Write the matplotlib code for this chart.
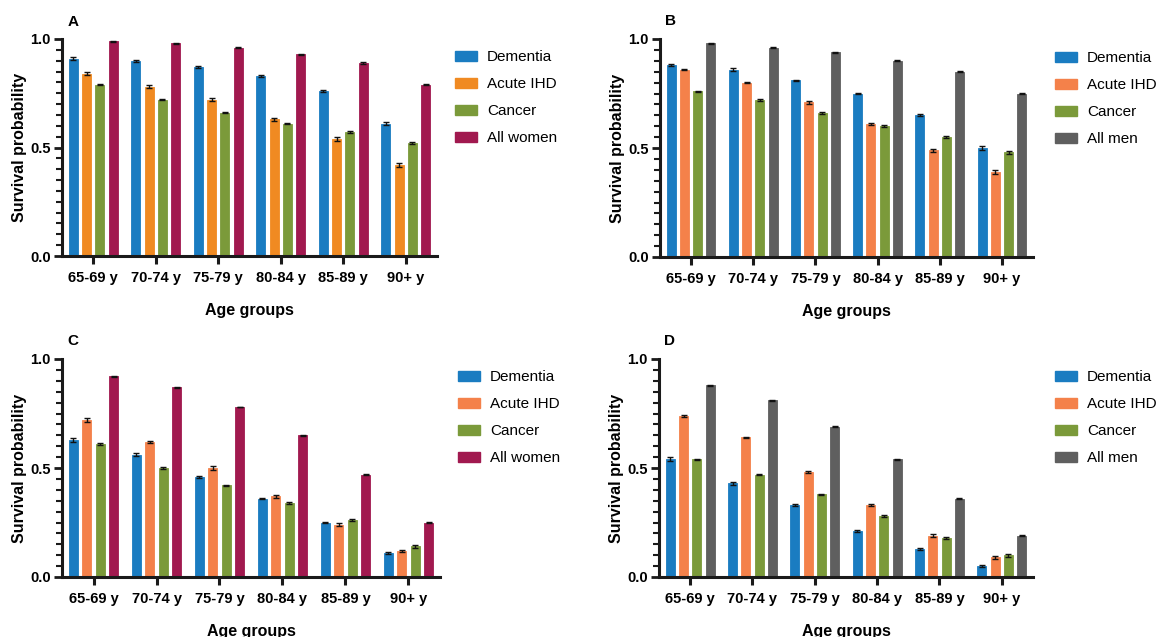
import matplotlib
matplotlib.use("Agg")
import matplotlib.pyplot as plt
import numpy as np
from matplotlib.patches import Patch
from matplotlib.ticker import MultipleLocator

plt.rcParams['font.family'] = ['Liberation Sans', 'DejaVu Sans']

age_groups = ["65-69 y", "70-74 y", "75-79 y", "80-84 y", "85-89 y", "90+ y"]
series_women = ["Dementia", "Acute IHD", "Cancer", "All women"]
series_men = ["Dementia", "Acute IHD", "Cancer", "All men"]

# Panel A (women)
a_dementia = [0.91, 0.90, 0.87, 0.83, 0.76, 0.61]
a_ihd      = [0.84, 0.78, 0.72, 0.63, 0.54, 0.42]
a_cancer   = [0.79, 0.72, 0.66, 0.61, 0.57, 0.52]
a_all      = [0.99, 0.98, 0.96, 0.93, 0.89, 0.79]
a_err_dementia = [0.005, 0.004, 0.005, 0.004, 0.005, 0.006]
a_err_ihd      = [0.006, 0.006, 0.006, 0.007, 0.008, 0.010]
a_err_cancer   = [0.003, 0.003, 0.003, 0.004, 0.005, 0.006]
a_err_all      = [0.002, 0.002, 0.002, 0.002, 0.003, 0.003]

# Panel B (men)
b_dementia = [0.88, 0.86, 0.81, 0.75, 0.65, 0.50]
b_ihd      = [0.86, 0.80, 0.71, 0.61, 0.49, 0.39]
b_cancer   = [0.76, 0.72, 0.66, 0.60, 0.55, 0.48]
b_all      = [0.98, 0.96, 0.94, 0.90, 0.85, 0.75]
b_err_dementia = [0.005, 0.005, 0.004, 0.004, 0.005, 0.007]
b_err_ihd      = [0.003, 0.004, 0.006, 0.005, 0.007, 0.010]
b_err_cancer   = [0.003, 0.003, 0.003, 0.004, 0.005, 0.008]
b_err_all      = [0.002, 0.002, 0.002, 0.002, 0.003, 0.003]

# Panel C (women)
c_dementia = [0.63, 0.56, 0.46, 0.36, 0.25, 0.11]
c_ihd      = [0.72, 0.62, 0.50, 0.37, 0.24, 0.12]
c_cancer   = [0.61, 0.50, 0.42, 0.34, 0.26, 0.14]
c_all      = [0.92, 0.87, 0.78, 0.65, 0.47, 0.25]
c_err_dementia = [0.009, 0.007, 0.005, 0.004, 0.004, 0.004]
c_err_ihd      = [0.008, 0.006, 0.007, 0.006, 0.006, 0.006]
c_err_cancer   = [0.004, 0.003, 0.004, 0.004, 0.005, 0.005]
c_err_all      = [0.002, 0.002, 0.002, 0.002, 0.003, 0.003]

# Panel D (men)
d_dementia = [0.54, 0.43, 0.33, 0.21, 0.13, 0.05]
d_ihd      = [0.74, 0.64, 0.48, 0.33, 0.19, 0.09]
d_cancer   = [0.54, 0.47, 0.38, 0.28, 0.18, 0.10]
d_all      = [0.88, 0.81, 0.69, 0.54, 0.36, 0.19]
d_err_dementia = [0.009, 0.008, 0.006, 0.004, 0.004, 0.004]
d_err_ihd      = [0.004, 0.004, 0.005, 0.006, 0.006, 0.008]
d_err_cancer   = [0.003, 0.003, 0.003, 0.004, 0.004, 0.006]
d_err_all      = [0.002, 0.002, 0.002, 0.002, 0.003, 0.003]

BLUE = "#1a7cc1"
ORANGE_A = "#f08a22"
ORANGE = "#f4814a"
GREEN = "#7b9a3a"
MAROON = "#a1194f"
GRAY = "#5f5f5f"

panels = [
    dict(letter="A", vals=[a_dementia, a_ihd, a_cancer, a_all],
         errs=[a_err_dementia, a_err_ihd, a_err_cancer, a_err_all],
         colors=[BLUE, ORANGE_A, GREEN, MAROON], labels=series_women,
         rect=[62/1165, 1-256/637, 375/1165, 217/637],
         leg=(452/1165, 1-47/637)),
    dict(letter="B", vals=[b_dementia, b_ihd, b_cancer, b_all],
         errs=[b_err_dementia, b_err_ihd, b_err_cancer, b_err_all],
         colors=[BLUE, ORANGE, GREEN, GRAY], labels=series_men,
         rect=[660/1165, 1-257/637, 373/1165, 218/637],
         leg=(1052/1165, 1-48/637)),
    dict(letter="C", vals=[c_dementia, c_ihd, c_cancer, c_all],
         errs=[c_err_dementia, c_err_ihd, c_err_cancer, c_err_all],
         colors=[BLUE, ORANGE, GREEN, MAROON], labels=series_women,
         rect=[62/1165, 1-577/637, 378/1165, 218/637],
         leg=(455/1165, 1-367/637)),
    dict(letter="D", vals=[d_dementia, d_ihd, d_cancer, d_all],
         errs=[d_err_dementia, d_err_ihd, d_err_cancer, d_err_all],
         colors=[BLUE, ORANGE, GREEN, GRAY], labels=series_men,
         rect=[659/1165, 1-577/637, 374/1165, 218/637],
         leg=(1052/1165, 1-367/637)),
]

fig = plt.figure(figsize=(11.65, 6.37), dpi=100)

x = np.arange(len(age_groups))
pitch = 0.213
width = 0.145
offsets = (np.arange(4) - 1.5) * pitch

for p in panels:
    ax = fig.add_axes(p["rect"])
    for i in range(4):
        ax.bar(x + offsets[i], p["vals"][i], width=width, color=p["colors"][i],
               edgecolor=p["colors"][i], linewidth=0.6, zorder=2)
        ax.errorbar(x + offsets[i], p["vals"][i], yerr=p["errs"][i], fmt='none',
                    ecolor='#111111', elinewidth=1.0, capsize=2.2, capthick=1.0, zorder=3)
    ax.set_xlim(-0.5, 5.5)
    ax.set_ylim(0, 1.0)
    ax.spines['top'].set_visible(False)
    ax.spines['right'].set_visible(False)
    ax.spines['left'].set_linewidth(2.2)
    ax.spines['bottom'].set_linewidth(2.2)
    ax.spines['left'].set_color('#1a1a1a')
    ax.spines['bottom'].set_color('#1a1a1a')
    ax.set_xticks(x)
    ax.set_xticklabels(age_groups, fontsize=10.5, fontweight='bold')
    ax.set_yticks([0, 0.5, 1.0])
    ax.set_yticklabels(["0.0", "0.5", "1.0"], fontsize=10.5, fontweight='bold')
    ax.yaxis.set_minor_locator(MultipleLocator(0.05))
    ax.tick_params(axis='x', which='major', length=6, width=2.2, pad=5, color='#1a1a1a')
    ax.tick_params(axis='y', which='major', length=6, width=2.0, pad=2, color='#1a1a1a')
    ax.tick_params(axis='y', which='minor', length=4, width=1.5, color='#1a1a1a')
    ax.set_xlabel("Age groups", fontsize=11.5, fontweight='bold', labelpad=13)
    ax.set_ylabel("Survival probability", fontsize=11.5, fontweight='bold', labelpad=2)
    ax.text(0.014, 1.062, p["letter"], transform=ax.transAxes, fontsize=11,
            fontweight='bold', ha='left', va='baseline')
    handles = [Patch(facecolor=c, edgecolor=c) for c in p["colors"]]
    ax.legend(handles, p["labels"], loc='upper left', bbox_to_anchor=p["leg"],
              bbox_transform=fig.transFigure, frameon=False, fontsize=11,
              handlelength=1.45, handleheight=0.65, handletextpad=0.65,
              labelspacing=0.85, borderpad=0.2, borderaxespad=0)

fig.savefig("out.png", dpi=100)
